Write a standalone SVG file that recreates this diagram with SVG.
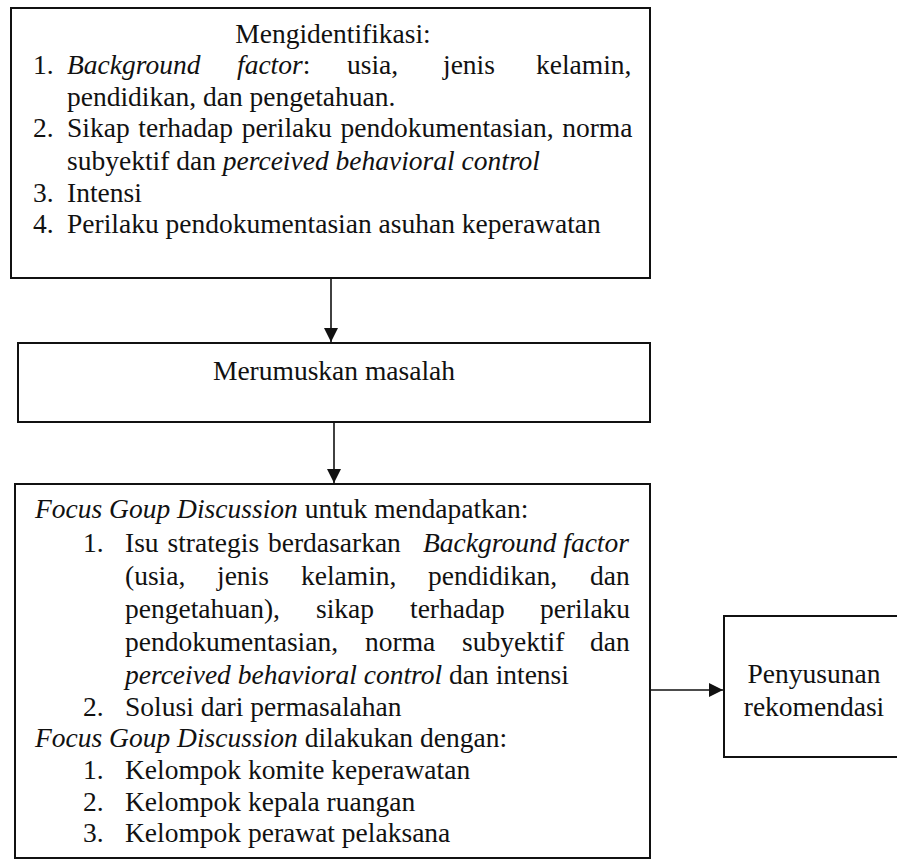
<svg xmlns="http://www.w3.org/2000/svg" width="897" height="862" viewBox="0 0 897 862">
<style>
.box{fill:#fff;stroke:#111;stroke-width:2}
.t{font-family:"Liberation Serif","Times New Roman",serif;font-size:27.5px;fill:#111}
.i{font-style:italic}
.c{stroke:#111;stroke-width:1.6;fill:none}
</style>
<defs>
<marker id="ah" viewBox="0 0 10 10" refX="10" refY="5" markerWidth="14" markerHeight="14" markerUnits="userSpaceOnUse" orient="auto">
<path d="M0,0 L10,5 L0,10 Z" fill="#111"/>
</marker>
</defs>
<rect width="897" height="862" fill="#fff"/>
<g id="connectors">
<line class="c" x1="331" y1="279" x2="331" y2="342" marker-end="url(#ah)"/>
<line class="c" x1="334" y1="423" x2="334" y2="483" marker-end="url(#ah)"/>
<line class="c" x1="651" y1="690" x2="723" y2="690" marker-end="url(#ah)"/>
</g>
<g id="node-identifikasi">
<rect class="box" x="11" y="8" width="639" height="270"/>
<text class="t" x="333" y="43" text-anchor="middle">Mengidentifikasi:</text>
<text class="t" y="74"><tspan x="33">1.</tspan><tspan x="67" class="i">Background</tspan><tspan x="237" class="i">factor</tspan><tspan>:</tspan><tspan x="347">usia,</tspan><tspan x="443">jenis</tspan><tspan x="536">kelamin,</tspan></text>
<text class="t" x="67" y="106">pendidikan, dan pengetahuan.</text>
<text class="t" y="137"><tspan x="33">2.</tspan><tspan x="67" word-spacing="1.8">Sikap terhadap perilaku pendokumentasian, norma</tspan></text>
<text class="t" x="67" y="170">subyektif dan <tspan class="i">perceived behavioral control</tspan></text>
<text class="t" y="202"><tspan x="33">3.</tspan><tspan x="67">Intensi</tspan></text>
<text class="t" y="233"><tspan x="33">4.</tspan><tspan x="67">Perilaku pendokumentasian asuhan keperawatan</tspan></text>
</g>
<g id="node-merumuskan">
<rect class="box" x="18" y="343" width="632" height="79"/>
<text class="t" x="334" y="380" text-anchor="middle">Merumuskan masalah</text>
</g>
<g id="node-fgd">
<rect class="box" x="15" y="484" width="635" height="374"/>
<text class="t" x="35" y="518"><tspan class="i">Focus Goup Discussion</tspan> untuk mendapatkan:</text>
<text class="t" y="552"><tspan x="83">1.</tspan><tspan x="125" word-spacing="2">Isu strategis berdasarkan</tspan><tspan x="423" class="i">Background factor</tspan></text>
<text class="t" y="585"><tspan x="125">(usia,</tspan><tspan x="217">jenis</tspan><tspan x="301">kelamin,</tspan><tspan x="428">pendidikan,</tspan><tspan x="590">dan</tspan></text>
<text class="t" y="618"><tspan x="125">pengetahuan),</tspan><tspan x="316">sikap</tspan><tspan x="410">terhadap</tspan><tspan x="540">perilaku</tspan></text>
<text class="t" y="651"><tspan x="125">pendokumentasian,</tspan><tspan x="365">norma</tspan><tspan x="462">subyektif</tspan><tspan x="590">dan</tspan></text>
<text class="t" x="125" y="684"><tspan class="i">perceived behavioral control</tspan> dan intensi</text>
<text class="t" y="716"><tspan x="83">2.</tspan><tspan x="125">Solusi dari permasalahan</tspan></text>
<text class="t" x="35" y="747"><tspan class="i">Focus Goup Discussion</tspan> dilakukan dengan:</text>
<text class="t" y="779"><tspan x="83">1.</tspan><tspan x="125">Kelompok komite keperawatan</tspan></text>
<text class="t" y="811"><tspan x="83">2.</tspan><tspan x="125">Kelompok kepala ruangan</tspan></text>
<text class="t" y="842"><tspan x="83">3.</tspan><tspan x="125">Kelompok perawat pelaksana</tspan></text>
</g>
<g id="node-rekomendasi">
<rect class="box" x="724" y="616" width="190" height="141"/>
<text class="t" x="814" y="683" text-anchor="middle">Penyusunan</text>
<text class="t" x="814" y="716" text-anchor="middle">rekomendasi</text>
</g>
</svg>
